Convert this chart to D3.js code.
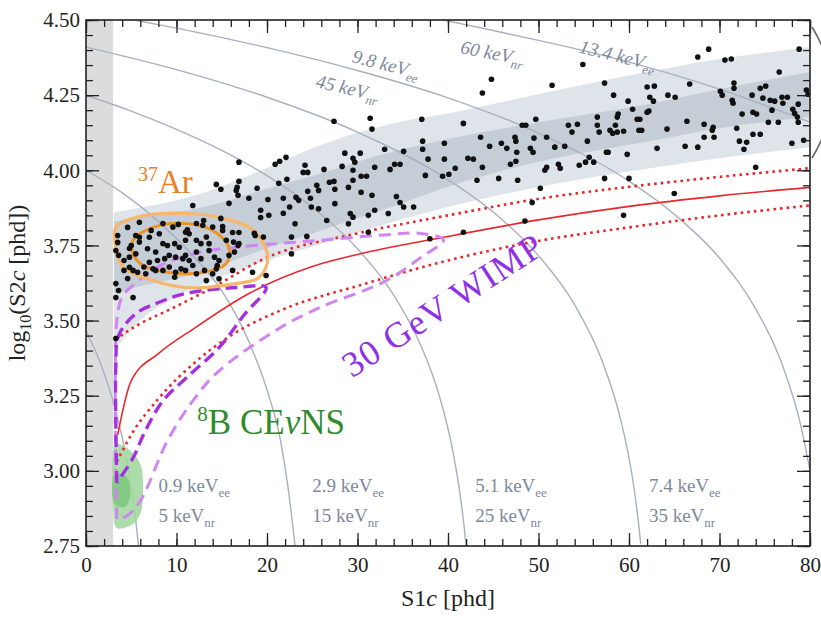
<!DOCTYPE html>
<html>
<head>
<meta charset="utf-8">
<script src="https://cdn.jsdelivr.net/npm/d3@7"></script>
<style>
  body { margin: 0; background: #fff; }
  svg, text { font-family: "Liberation Serif", "Times New Roman", Tinos, Times, "Nimbus Roman", "DejaVu Serif", "Noto Serif", serif; }
</style>
</head>
<body>
<svg id="chart" width="821" height="619"></svg>
<script>
// ---- data (S1c in phd, log10 S2c) ----
const s1Major = [0, 10, 20, 30, 40, 50, 60, 70, 80];
const s2Major = [2.75, 3.00, 3.25, 3.50, 3.75, 4.00, 4.25, 4.50];

// ER band: S1 grid and band edges
const bandS1      = [3.1, 6, 10, 14, 19, 26, 33, 41, 51, 62, 70, 80];
const bandOuterHi = [3.86, 3.875, 3.9, 3.935, 3.995, 4.085, 4.15, 4.195, 4.26, 4.327, 4.37, 4.41];
const bandInnerHi = [3.83, 3.845, 3.86, 3.885, 3.93, 3.99, 4.055, 4.11, 4.165, 4.22, 4.27, 4.327];
const bandInnerLo = [3.59, 3.615, 3.64, 3.675, 3.73, 3.80, 3.87, 3.955, 4.035, 4.095, 4.14, 4.177];
const bandOuterLo = [3.40, 3.5, 3.58, 3.635, 3.69, 3.755, 3.82, 3.885, 3.95, 4.005, 4.04, 4.077];

// constant energy contours
const contour5  = [[0,3.467],[1,3.402],[2,3.325],[3,3.231],[4,3.111],[4.5,3.038],[5,2.945],[5.4,2.86],[5.8,2.75]];
const contour15 = [[0,4.0],[4,3.925],[8,3.83],[12,3.71],[15,3.6],[18,3.43],[20,3.27],[21.5,3.1],[22.3,2.95],[22.8,2.83],[23.1,2.75]];
const contour25 = [[0,4.25],[5,4.197],[10,4.136],[15,4.066],[20,3.982],[25,3.877],[30,3.739],[34,3.585],[37,3.417],[39,3.254],[40.5,3.071],[41.3,2.929],[41.8,2.81],[42.0,2.75]];
const contour35 = [[0,4.41],[10,4.335],[20,4.243],[30,4.127],[40,3.969],[45,3.861],[50,3.716],[54,3.552],[57,3.368],[59,3.18],[60.3,2.992],[61,2.841],[61.3,2.757]];
const contour45 = [[5.3,4.5],[10,4.473],[20,4.408],[30,4.332],[40,4.241],[50,4.124],[60,3.964],[65,3.854],[70,3.708],[74,3.539],[77,3.348],[79,3.149],[80,3.0]];
const contour60 = [[39.5,4.5],[45,4.465],[50,4.432],[55,4.398],[60,4.36],[70,4.27],[80,4.16]];

// NR band (red)
const nrUpper  = [[3.2,3.437],[6,3.49],[9,3.533],[13.4,3.6],[20,3.71],[30,3.79],[40,3.85],[50,3.905],[60,3.945],[70,3.978],[80,4.007]];
const nrMedian = [[3.5,3.12],[5,3.3],[8,3.39],[12,3.475],[18,3.59],[25,3.68],[30,3.72],[40,3.78],[50,3.835],[60,3.88],[70,3.915],[80,3.943]];
const nrLower  = [[3.4,3.03],[5,3.12],[8,3.24],[12,3.36],[16,3.45],[22,3.54],[30,3.615],[40,3.70],[50,3.765],[60,3.81],[70,3.85],[80,3.883]];

// 30 GeV WIMP contours
const wimpOuter = [[3.4,2.84],[3.25,3.1],[3.25,3.35],[3.4,3.5],[4.0,3.58],[5.2,3.617],[8.2,3.683],[12.6,3.727],[17,3.745],[21.5,3.757],[25.8,3.767],[33,3.785],[37,3.79],[39.5,3.768],[37,3.71],[33,3.63],[25.8,3.543],[21.5,3.477],[14.7,3.333],[11.8,3.233],[9,3.1],[6.0,2.9],[4.5,2.85],[3.4,2.84]];
const wimpInner = [[3.4,2.96],[3.3,3.15],[3.3,3.35],[3.6,3.45],[5.5,3.523],[8,3.56],[11,3.59],[16.6,3.61],[19.9,3.61],[17.5,3.52],[14.7,3.41],[11.1,3.31],[8.5,3.233],[6.5,3.13],[5.2,3.043],[3.4,2.96]];

// 37Ar contours
const arOuter = [[3.3,3.81],[5.5,3.843],[11,3.857],[14.7,3.843],[18.5,3.8],[20.1,3.71],[19.1,3.643],[16.6,3.623],[11,3.61],[7.4,3.633],[4.1,3.677],[3.3,3.743]];
const arInner = [[5.2,3.767],[7.4,3.81],[11,3.823],[14,3.8],[15.8,3.743],[15.5,3.69],[12.9,3.66],[9.2,3.66],[6.3,3.683],[5.2,3.723]];

// 8B CEvNS region
const cevnsOuter = [[3.2,3.09],[4.5,3.077],[6.0,3.023],[6.3,2.923],[6.0,2.857],[5.2,2.823],[3.4,2.81],[3.0,2.867],[3.0,3.067]];
const cevnsInner = [[3.2,2.99],[4.5,2.98],[4.9,2.92],[4.3,2.88],[3.2,2.89]];

// events
const events = [
 [44.8,4.303],[54.9,4.352],[67.6,4.377],[68.8,4.403],[70.6,4.367],[71.3,4.37],[78.8,4.403],[76.6,4.327],[43.8,4.257],[51.5,4.283],
 [57.3,4.29],[66.7,4.287],[62.0,4.277],[62.8,4.28],[58.3,4.25],[62.3,4.243],[62.7,4.23],[64.3,4.25],[65.1,4.243],[59.9,4.23],
 [60.4,4.203],[70.1,4.263],[70.3,4.25],[71.6,4.29],[71.6,4.273],[71.4,4.233],[71.5,4.223],[73.6,4.25],[74.5,4.273],[75.1,4.28],
 [74.8,4.24],[75.6,4.233],[76.1,4.23],[76.9,4.243],[77.5,4.243],[77.0,4.223],[79.6,4.267],[79.8,4.253],[78.7,4.22],[78.1,4.203],
 [78.3,4.19],[78.6,4.177],[78.7,4.16],[75.8,4.2],[75.4,4.16],[76.5,4.16],[73.7,4.193],[74.1,4.187],[72.5,4.187],[71.9,4.14],
 [72.2,4.097],[72.7,4.07],[73.0,4.093],[73.7,4.12],[74.5,4.12],[78.0,4.09],[79.3,4.1],[74.0,4.01],[66.4,4.163],[68.3,4.153],
 [69.3,4.143],[69.2,4.133],[68.3,4.11],[69.4,4.11],[67.6,4.077],[66.2,4.08],[64.2,4.137],[63.1,4.073],[62.2,4.197],[62.0,4.193],
 [61.2,4.17],[60.9,4.17],[61.1,4.133],[61.4,4.133],[58.8,4.187],[58.7,4.177],[58.5,4.15],[58.2,4.123],[58.7,4.127],[59.4,4.13],
 [57.9,4.133],[56.5,4.177],[56.5,4.15],[56.7,4.127],[54.3,4.153],[53.7,4.127],[53.3,4.15],[55.4,4.097],[55.6,4.043],[55.2,4.027],
 [56.1,4.027],[57.5,4.06],[57.7,4.06],[59.8,4.053],[54.5,4.017],[57.3,3.973],[60.0,3.973],[65.0,3.923],[50.2,3.94],[49.3,3.893],
 [47.7,3.967],[45.6,3.973],[43.2,3.967],[43.8,4.01],[40.8,4.007],[42.2,4.04],[42.8,4.037],[43.6,4.11],[44.6,4.08],[45.9,4.09],
 [46.5,4.073],[47.4,4.11],[47.5,4.097],[47.6,4.06],[46.9,4.02],[47.5,4.03],[49.1,4.073],[49.4,4.06],[49.5,4.107],[49.7,4.17],
 [48.2,4.15],[48.6,4.15],[50.9,4.11],[51.8,4.077],[52.9,4.08],[52.2,4.02],[52.4,4.007],[50.9,4.01],[50.7,4.0],[41.7,4.156],
 [27.4,4.163],[31.4,4.173],[31.6,4.137],[37.1,4.17],[37.2,4.097],[37.2,4.07],[39.6,4.09],[39.6,4.037],[37.8,4.037],[37.5,3.983],
 [39.4,3.98],[40.1,3.987],[35.1,4.063],[33.0,4.07],[34.1,4.02],[34.7,4.02],[33.6,4.003],[31.9,4.01],[30.3,4.057],[28.6,4.057],
 [29.5,4.04],[29.7,4.027],[28.3,4.013],[29.5,4.0],[30.4,3.98],[31.0,3.98],[29.5,3.967],[29.0,3.943],[30.4,3.927],[31.6,3.917],
 [27.4,3.963],[26.9,3.96],[27.5,3.937],[26.3,4.003],[24.2,4.017],[24.5,3.993],[24.0,3.993],[25.5,3.95],[25.7,3.933],[24.5,3.93],
 [24.8,3.907],[23.2,3.91],[23.5,3.9],[22.2,3.97],[21.3,3.957],[20.9,4.02],[21.4,4.03],[22.1,4.043],[16.9,4.027],[16.9,3.963],
 [16.7,3.943],[16.6,3.933],[16.8,3.917],[14.4,3.953],[14.9,3.937],[18.9,3.94],[18.0,3.907],[20.1,3.903],[21.8,3.907],[15.8,3.89],
 [34.3,3.913],[34.7,3.893],
 [22.5,3.878],[24.9,3.878],[25.7,3.872],[27.5,3.889],[29.2,3.856],[29.5,3.844],[31.2,3.85],[31.9,3.867],[33.4,3.856],[35.1,3.878],
 [36.2,3.878],[26.6,3.833],[23.1,3.822],[29.0,3.822],[31.2,3.794],[38.0,3.772],[41.7,3.794],[48.5,3.831],[22.7,3.778],[24.4,3.78],
 [22.7,3.722],[59.4,3.85],
 [11.8,3.883],[19.3,3.867],[19.3,3.843],[20.2,3.85],[21.8,3.857],[16.9,3.793],[16.8,3.75],[16.2,3.793],[18.6,3.79],[14.9,3.84],
 [15.1,3.813],[12.2,3.823],[10.2,3.82],[8.5,3.823],[5.9,3.827],[4.6,3.81],[3.5,3.783],[3.5,3.76],[3.3,3.733],[5.0,3.75],
 [4.8,3.74],[5.5,3.783],[5.9,3.777],[7.0,3.777],[3.6,3.717],[4.2,3.7],[4.8,3.677],[5.2,3.667],[4.2,3.667],[4.6,3.64],
 [3.3,3.623],[3.6,3.6],[3.3,3.577],[5.2,3.577],[3.3,3.44],
 [5.9,3.761],[6.8,3.739],[7.7,3.728],[8.5,3.756],[9.0,3.75],[9.8,3.756],[10.3,3.744],[11.0,3.767],[11.4,3.789],[12.2,3.767],
 [12.7,3.756],[13.3,3.778],[13.6,3.756],[12.2,3.728],[11.0,3.717],[10.7,3.706],[11.4,3.7],[9.9,3.711],[9.2,3.717],[8.7,3.706],
 [7.9,3.7],[7.0,3.694],[6.4,3.678],[7.4,3.672],[8.5,3.667],[9.2,3.678],[9.9,3.661],[10.5,3.672],[11.8,3.683],[12.7,3.706],
 [13.6,3.733],[14.2,3.711],[14.7,3.7],[14.4,3.672],[13.1,3.667],[12.2,3.656],[11.0,3.667],[15.5,3.767],[16.9,3.756],[16.4,3.728],
 [15.8,3.717],[14.5,3.683],[14.0,3.656],[14.7,3.639],[13.3,3.633],[18.4,3.661],[19.9,3.65],[16.2,3.667],[9.6,3.811],[11.0,3.794],
 [12.9,3.817],[14.0,3.811],[15.1,3.8],[8.1,3.789],[7.2,3.8],[5.5,3.722],[4.8,3.711],[5.7,3.661],[6.6,3.656],[7.7,3.667],
 [9.8,3.644],[19.6,3.778],[18.7,3.783],[16.3,3.761],[11.2,3.802],[13.0,3.833]
];

// ---- drawing ----
const m = { left: 86, right: 810, top: 20, bottom: 546 };
const serif = "'Liberation Serif', 'Times New Roman', Tinos, Times, 'Nimbus Roman', 'DejaVu Serif', serif";
const svg = d3.select("#chart").attr("font-family", serif);
const x = d3.scaleLinear().domain([0, 80]).range([m.left, m.right]);
const y = d3.scaleLinear().domain([2.75, 4.5]).range([m.bottom, m.top]);

svg.append("defs").append("clipPath").attr("id", "plotclip")
  .append("rect").attr("x", m.left).attr("y", m.top)
  .attr("width", m.right - m.left).attr("height", m.bottom - m.top);

const plot = svg.append("g").attr("clip-path", "url(#plotclip)");

// threshold strip
plot.append("rect")
  .attr("x", x(0)).attr("y", y(4.5))
  .attr("width", x(3) - x(0)).attr("height", y(2.75) - y(4.5))
  .attr("fill", "#dcdcdc");

// ER band
const band = (lo, hi) => d3.area()
  .x((d, i) => x(bandS1[i]))
  .y0((d, i) => y(lo[i]))
  .y1((d, i) => y(hi[i]))
  .curve(d3.curveMonotoneX)(bandS1);

plot.append("path").attr("d", band(bandOuterLo, bandOuterHi)).attr("fill", "#dfe4ea");
plot.append("path").attr("d", band(bandInnerLo, bandInnerHi)).attr("fill", "#c5ced7");

// energy contours
const line = d3.line().x(d => x(d[0])).y(d => y(d[1])).curve(d3.curveMonotoneX);
[contour5, contour15, contour25, contour35, contour45, contour60].forEach(c => {
  plot.append("path").attr("d", line(c))
    .attr("fill", "none").attr("stroke", "#a9b0bd").attr("stroke-width", 1.4);
});

// CEvNS
const closed = d3.line().x(d => x(d[0])).y(d => y(d[1])).curve(d3.curveCatmullRomClosed.alpha(0.5));
plot.append("path").attr("d", closed(cevnsOuter)).attr("fill", "#a3d8a0").attr("opacity", 0.9);
plot.append("path").attr("d", closed(cevnsInner)).attr("fill", "#7cc67a").attr("opacity", 0.85);

// NR band lines
plot.append("path").attr("d", line(nrUpper)).attr("fill", "none")
  .attr("stroke", "#e8272c").attr("stroke-width", 2.6).attr("stroke-dasharray", "2.6,4");
plot.append("path").attr("d", line(nrLower)).attr("fill", "none")
  .attr("stroke", "#e8272c").attr("stroke-width", 2.6).attr("stroke-dasharray", "2.6,4");
plot.append("path").attr("d", line(nrMedian)).attr("fill", "none")
  .attr("stroke", "#e8272c").attr("stroke-width", 1.6);

// WIMP contours
const loop = d3.line().x(d => x(d[0])).y(d => y(d[1])).curve(d3.curveCatmullRom.alpha(0.5));
plot.append("path").attr("d", loop(wimpOuter)).attr("fill", "none")
  .attr("stroke", "#cf86f2").attr("stroke-width", 3).attr("stroke-dasharray", "12,7");
plot.append("path").attr("d", loop(wimpInner)).attr("fill", "none")
  .attr("stroke", "#a431e0").attr("stroke-width", 3.4).attr("stroke-dasharray", "12,6");

// 37Ar contours
plot.append("path").attr("d", closed(arOuter)).attr("fill", "none")
  .attr("stroke", "#f6b66c").attr("stroke-width", 3.2);
plot.append("path").attr("d", closed(arInner)).attr("fill", "none")
  .attr("stroke", "#ec9428").attr("stroke-width", 3);

// events
plot.selectAll("circle.ev").data(events).join("circle")
  .attr("class", "ev")
  .attr("cx", d => x(d[0])).attr("cy", d => y(d[1]))
  .attr("r", 2.8).attr("fill", "#111");

// ---- axes ----
function styleAxis(g) {
  g.attr("font-family", serif);
  g.select(".domain").remove();
  g.selectAll(".tick line").attr("stroke", "#222").attr("stroke-width", 1.3);
  g.selectAll(".tick text").attr("font-size", 21).attr("fill", "#222");
}
const fmtY = d3.format(".2f");

svg.append("g").attr("transform", `translate(0,${m.bottom})`)
  .call(d3.axisBottom(x).tickValues(s1Major).tickSize(-13).tickPadding(11)).call(styleAxis);
svg.append("g").attr("transform", `translate(0,${m.bottom})`)
  .call(d3.axisBottom(x).ticks(40).tickSize(-7).tickFormat("")).call(styleAxis);
svg.append("g").attr("transform", `translate(0,${m.top})`)
  .call(d3.axisTop(x).tickValues(s1Major).tickSize(-13).tickFormat("")).call(styleAxis);
svg.append("g").attr("transform", `translate(0,${m.top})`)
  .call(d3.axisTop(x).ticks(40).tickSize(-7).tickFormat("")).call(styleAxis);

svg.append("g").attr("transform", `translate(${m.left},0)`)
  .call(d3.axisLeft(y).tickValues(s2Major).tickSize(-13).tickPadding(6).tickFormat(fmtY)).call(styleAxis);
svg.append("g").attr("transform", `translate(${m.left},0)`)
  .call(d3.axisLeft(y).ticks(35).tickSize(-7).tickFormat("")).call(styleAxis);
svg.append("g").attr("transform", `translate(${m.right},0)`)
  .call(d3.axisRight(y).tickValues(s2Major).tickSize(-13).tickFormat("")).call(styleAxis);
svg.append("g").attr("transform", `translate(${m.right},0)`)
  .call(d3.axisRight(y).ticks(35).tickSize(-7).tickFormat("")).call(styleAxis);

svg.append("rect").attr("x", m.left).attr("y", m.top)
  .attr("width", m.right - m.left).attr("height", m.bottom - m.top)
  .attr("fill", "none").attr("stroke", "#222").attr("stroke-width", 1.6);

// axis titles
const xt = svg.append("text").attr("x", (m.left + m.right) / 2).attr("y", 606)
  .attr("text-anchor", "middle").attr("font-size", 24).attr("fill", "#222");
xt.append("tspan").text("S1");
xt.append("tspan").attr("font-style", "italic").text("c");
xt.append("tspan").text(" [phd]");

const yt = svg.append("text").attr("transform", `translate(25,${(m.top + m.bottom) / 2}) rotate(-90)`)
  .attr("text-anchor", "middle").attr("font-size", 24).attr("fill", "#222");
yt.append("tspan").text("log");
yt.append("tspan").attr("font-size", 16).attr("dy", 6).text("10");
yt.append("tspan").attr("dy", -6).text("(S2");
yt.append("tspan").attr("font-style", "italic").text("c");
yt.append("tspan").text(" [phd])");

// ---- annotations ----
const labelColor = "#7d899b";
function keVLabel(s1, s2, num, sub, angle, italic) {
  const t = svg.append("text")
    .attr("transform", `translate(${x(s1)},${y(s2)}) rotate(${angle})`)
    .attr("font-size", 19).attr("fill", labelColor)
    .attr("font-style", italic ? "italic" : "normal");
  t.append("tspan").text(num + " keV");
  t.append("tspan").attr("font-size", 13).attr("dy", 5).text(sub);
}
const lowLabelsS1 = [8.0, 25.0, 43.0, 62.2];
const lowLabelsEe = ["0.9", "2.9", "5.1", "7.4"];
const lowLabelsNr = ["5", "15", "25", "35"];
lowLabelsS1.forEach((s, i) => {
  keVLabel(s, 2.93, lowLabelsEe[i], "ee", 0, false);
  keVLabel(s, 2.83, lowLabelsNr[i], "nr", 0, false);
});
keVLabel(29.3, 4.36, "9.8", "ee", 14, true);
keVLabel(25.3, 4.277, "45", "nr", 13, true);
keVLabel(41.3, 4.39, "60", "nr", 11, true);
keVLabel(54.4, 4.393, "13.4", "ee", 14, true);

// 37Ar
const ar = svg.append("text").attr("x", x(5.75)).attr("y", y(3.923))
  .attr("fill", "#e4822c").attr("font-size", 33);
ar.append("tspan").attr("font-size", 20).attr("dy", -12).text("37");
ar.append("tspan").attr("dy", 12).text("Ar");

// 8B CEvNS
const cev = svg.append("text").attr("x", x(12.3)).attr("y", y(3.123))
  .attr("fill", "#2f8c2c").attr("font-size", 35);
cev.append("tspan").attr("font-size", 21).attr("dy", -13).text("8");
cev.append("tspan").attr("dy", 13).text("B CE");
cev.append("tspan").attr("font-style", "italic").text("\u03bd");
cev.append("tspan").text("NS");

// 30 GeV WIMP
svg.append("text")
  .attr("transform", `translate(${x(29.4)},${y(3.307)}) rotate(-33)`)
  .attr("fill", "#8f2fe6").attr("font-size", 36).attr("letter-spacing", 1.2)
  .text("30 GeV WIMP");

// bracket cut at the right margin
svg.append("path").attr("d", "M812,27 Q852,92 812,158")
  .attr("fill", "none").attr("stroke", "#666").attr("stroke-width", 1.6);
</script>
</body>
</html>
